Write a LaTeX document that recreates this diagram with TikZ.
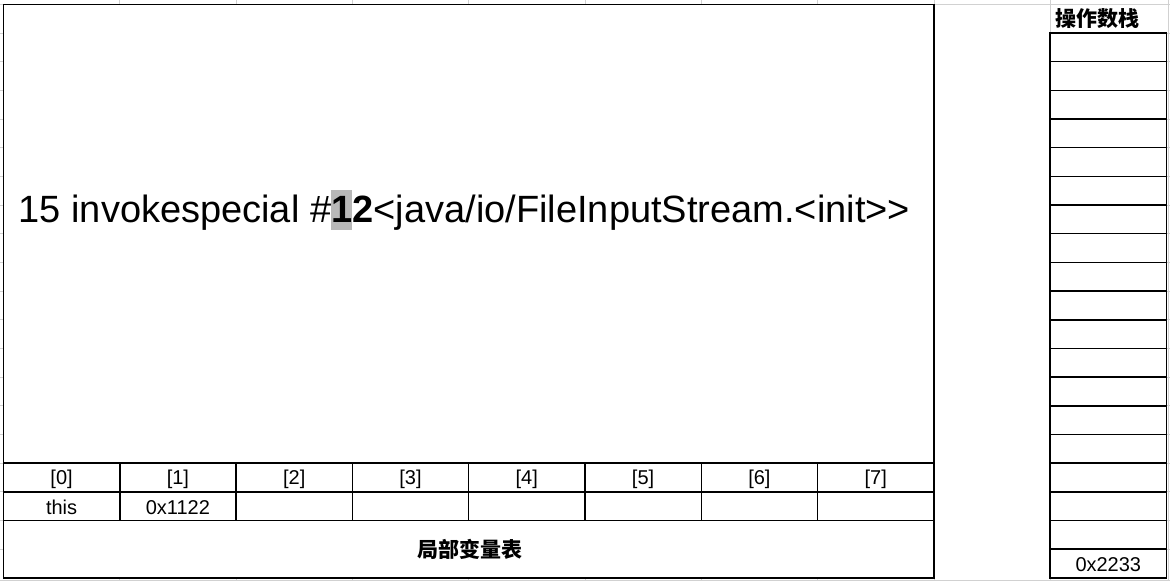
\documentclass[tikz,border=0pt]{standalone}
\usepackage{fontspec}
\setmainfont{Liberation Sans}
\newfontfamily\cjk{Noto Sans CJK SC}
\begin{document}
\begin{tikzpicture}[x=1pt,y=-1pt,
  border/.style={line width=1.5pt,black},
  grid/.style={line width=0.8pt,black!18},
  cell/.style={inner sep=0pt,font=\fontsize{20}{20}\selectfont},
  title/.style={inner sep=0pt,font=\cjk\bfseries\fontsize{21}{21}\selectfont}]
\useasboundingbox (0,0) rectangle (1170,581);
\def\rh{28.68}
% faint spreadsheet grid at the margins
\draw[grid] (0,4.3) -- (1170,4.3);
\draw[grid] (0,580) -- (1170,580);
\draw[grid] (1050.2,0) -- (1050.2,33);
\draw[grid] (1168.5,0) -- (1168.5,581);
\foreach \k in {1,...,19} {
  \draw[grid] (0,4.3+\k*\rh) -- (3.5,4.3+\k*\rh);
  \draw[grid] (1166.5,4.3+\k*\rh) -- (1170,4.3+\k*\rh);
}
\foreach \j in {1,...,9} {
  \draw[grid] (3.5+\j*116.3,0) -- (3.5+\j*116.3,4.3);
  \draw[grid] (3.5+\j*116.3,578) -- (3.5+\j*116.3,581);
}
% main frame
\draw[border] (3.5,4.3) rectangle (933.9,578);
\draw[border] (3.5,463.2) -- (933.9,463.2);
\draw[border] (3.5,491.9) -- (933.9,491.9);
\draw[border] (3.5,520.6) -- (933.9,520.6);
\foreach \j in {1,...,7} \draw[border] (3.5+\j*116.3,463.2) -- (3.5+\j*116.3,520.6);
% local variable labels
\foreach \j in {0,...,7} \node[cell] (h\j) at (61.6+\j*116.3,479) {[\j]};
\node[cell] (v0) at (61.6,507.5) {this};
\node[cell] (v1) at (177.9,507.5) {0x1122};
\node[title] (lvt) at (469.5,549.5) {局部变量表};
% instruction
\node[anchor=base west,inner sep=0pt,font=\fontsize{38}{38}\selectfont] (instr) at (18.5,222)
 {15 invokespecial \#{\setlength{\fboxsep}{0pt}\bfseries\colorbox{black!28}{\rule[-0.2em]{0pt}{1.05em}1}2}<java/io/FileInputStream.<init>{}>};
% operand stack
\node[title,anchor=west] (ost) at (1055,19) {操作数栈};
\draw[border] (1050.2,33) rectangle (1166.5,578);
\foreach \k in {2,...,19} \draw[border] (1050.2,4.3+\k*\rh) -- (1166.5,4.3+\k*\rh);
\node[cell] (s0) at (1108.3,565) {0x2233};
\end{tikzpicture}
\end{document}
